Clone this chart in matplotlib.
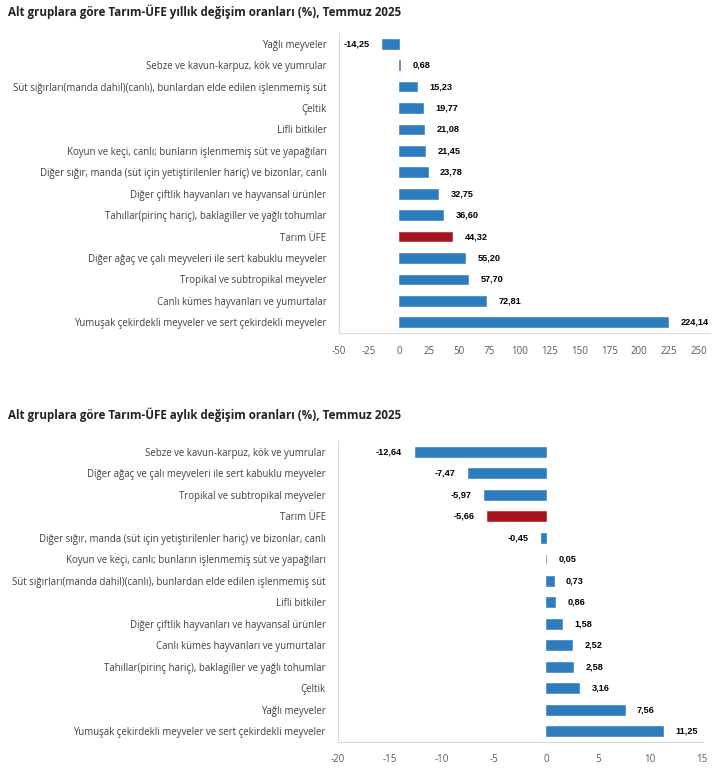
import matplotlib
matplotlib.use("Agg")
import matplotlib.pyplot as plt

plt.rcParams['font.family'] = ['Open Sans', 'DejaVu Sans']

# yillik degisim (top chart), listed top -> bottom
yillik_kat = ["Yağlı meyveler",
              "Sebze ve kavun-karpuz, kök ve yumrular",
              "Süt sığırları(manda dahil)(canlı), bunlardan elde edilen işlenmemiş süt",
              "Çeltik",
              "Lifli bitkiler",
              "Koyun ve keçi, canlı; bunların işlenmemiş süt ve yapağıları",
              "Diğer sığır, manda (süt için yetiştirilenler hariç) ve bizonlar, canlı",
              "Diğer çiftlik hayvanları ve hayvansal ürünler",
              "Tahıllar(pirinç hariç), baklagiller ve yağlı tohumlar",
              "Tarım ÜFE",
              "Diğer ağaç ve çalı meyveleri ile sert kabuklu meyveler",
              "Tropikal ve subtropikal meyveler",
              "Canlı kümes hayvanları ve yumurtalar",
              "Yumuşak çekirdekli meyveler ve sert çekirdekli meyveler"]
yillik_deg = [-14.25, 0.68, 15.23, 19.77, 21.08, 21.45, 23.78, 32.75, 36.60,
              44.32, 55.20, 57.70, 72.81, 224.14]

# aylik degisim (bottom chart)
aylik_kat = ["Sebze ve kavun-karpuz, kök ve yumrular",
             "Diğer ağaç ve çalı meyveleri ile sert kabuklu meyveler",
             "Tropikal ve subtropikal meyveler",
             "Tarım ÜFE",
             "Diğer sığır, manda (süt için yetiştirilenler hariç) ve bizonlar, canlı",
             "Koyun ve keçi, canlı; bunların işlenmemiş süt ve yapağıları",
             "Süt sığırları(manda dahil)(canlı), bunlardan elde edilen işlenmemiş süt",
             "Lifli bitkiler",
             "Diğer çiftlik hayvanları ve hayvansal ürünler",
             "Canlı kümes hayvanları ve yumurtalar",
             "Tahıllar(pirinç hariç), baklagiller ve yağlı tohumlar",
             "Çeltik",
             "Yağlı meyveler",
             "Yumuşak çekirdekli meyveler ve sert çekirdekli meyveler"]
aylik_deg = [-12.64, -7.47, -5.97, -5.66, -0.45, 0.05, 0.73, 0.86, 1.58,
             2.52, 2.58, 3.16, 7.56, 11.25]

yillik_ticks = [-50, -25, 0, 25, 50, 75, 100, 125, 150, 175, 200, 225, 250]
aylik_ticks = [-20, -15, -10, -5, 0, 5, 10, 15]

mavi = '#2E7BBE'
kirmizi = '#A5141C'
W, H = 727, 770

fig = plt.figure(figsize=(W / 100, H / 100), dpi=100)


def ciz(ax, kat, deg, ticks, xlim):
    y = list(range(len(kat)))
    renk = [kirmizi if k == "Tarım ÜFE" else mavi for k in kat]
    ax.barh(y, deg, height=0.45, color=renk, edgecolor=renk, linewidth=0.4)
    for yi, v in zip(y, deg):
        txt = f"{v:.2f}".replace('.', ',')
        if v < 0:
            ax.annotate(txt, (v, yi), xytext=(-9, 0), textcoords='offset points',
                        ha='right', va='center', fontsize=6.6, fontweight='bold',
                        family='Liberation Sans', color='black')
        else:
            ax.annotate(txt, (v, yi), xytext=(9, 0), textcoords='offset points',
                        ha='left', va='center', fontsize=6.6, fontweight='bold',
                        family='Liberation Sans', color='black')
    ax.set_ylim(len(kat) - 0.5, -0.5)
    ax.set_xlim(*xlim)
    ax.set_yticks(y)
    ax.set_yticklabels(kat, fontsize=6.9, color='#404040')
    ax.set_xticks(ticks)
    ax.set_xticklabels([str(t) for t in ticks], fontsize=7, color='#595959')
    ax.tick_params(axis='both', length=0)
    ax.tick_params(axis='y', pad=9)
    ax.tick_params(axis='x', pad=9)
    for s in ['top', 'right']:
        ax.spines[s].set_visible(False)
    for s in ['left', 'bottom']:
        ax.spines[s].set_color('#D9D9D9')
        ax.spines[s].set_linewidth(0.8)


ax1 = fig.add_axes([339 / W, 1 - 333 / H, (710 - 339) / W, (333 - 33) / H])
ciz(ax1, yillik_kat, yillik_deg, yillik_ticks, (-50, 259))

ax2 = fig.add_axes([338 / W, 1 - 742 / H, (703 - 338) / W, (742 - 441) / H])
ciz(ax2, aylik_kat, aylik_deg, aylik_ticks, (-20, 15.1))

fig.text(8 / W, 1 - 12 / H, "Alt gruplara göre Tarım-ÜFE yıllık değişim oranları (%), Temmuz 2025",
         fontsize=8.4, fontweight='bold', color='#222222', va='center', ha='left')
fig.text(8 / W, 1 - 415 / H, "Alt gruplara göre Tarım-ÜFE aylık değişim oranları (%), Temmuz 2025",
         fontsize=8.4, fontweight='bold', color='#222222', va='center', ha='left')

fig.savefig('out.png', dpi=100)
